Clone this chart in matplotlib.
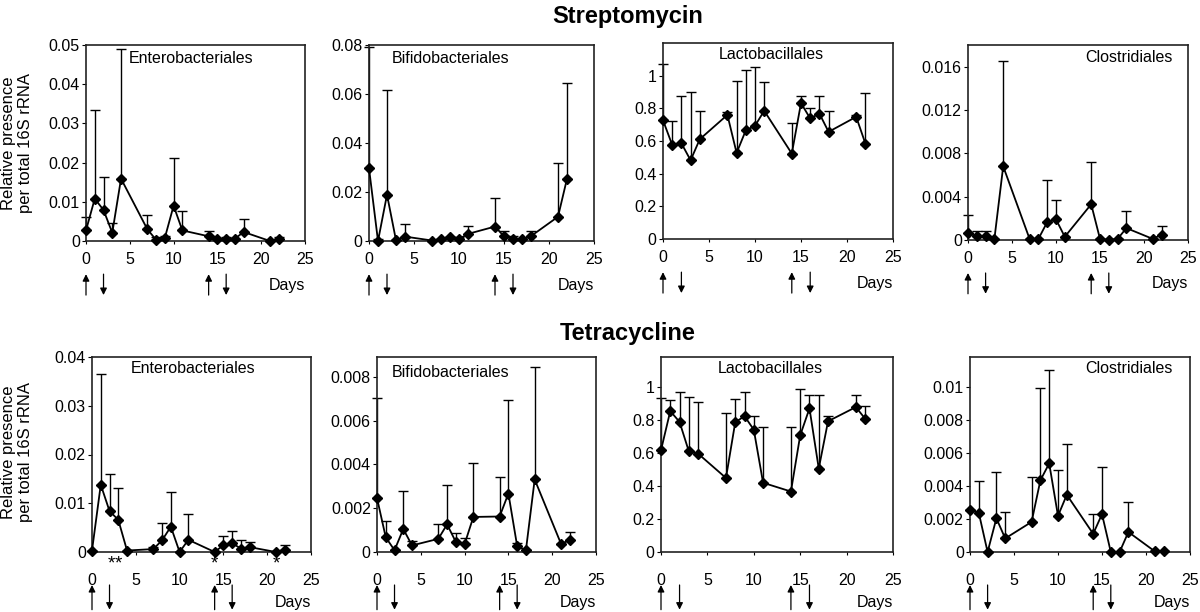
import numpy as np
import matplotlib
matplotlib.use("Agg")
import matplotlib.pyplot as plt

plt.rcParams['font.family'] = ['Liberation Sans', 'DejaVu Sans']

days = [0, 1, 2, 3, 4, 7, 8, 9, 10, 11, 14, 15, 16, 17, 18, 21, 22]

# Streptomycin: mean and top of error bar
strep_entero = [0.0027, 0.0108, 0.0079, 0.0021, 0.0159, 0.0030, 0.0003, 0.0008, 0.0090,
                0.0027, 0.0012, 0.0004, 0.0006, 0.0006, 0.0023, 0.0000, 0.0005]
strep_entero_err = [0.0062, 0.0335, 0.0162, 0.0047, 0.0490, 0.0066, 0.0010, 0.0013, 0.0211,
                    0.0077, 0.0026, 0.0004, 0.0011, 0.0006, 0.0057, 0.0000, 0.0010]
strep_bifido = [0.0297, 0.0000, 0.0189, 0.0003, 0.0018, 0.0002, 0.0008, 0.0018, 0.0008,
                0.0029, 0.0059, 0.0019, 0.0010, 0.0008, 0.0020, 0.0099, 0.0254]
strep_bifido_err = [0.0790, 0.0008, 0.0618, 0.0003, 0.0068, 0.0002, 0.0008, 0.0018, 0.0018,
                    0.0061, 0.0177, 0.0041, 0.0020, 0.0008, 0.0041, 0.0320, 0.0646]
strep_lacto = [0.727, 0.576, 0.586, 0.482, 0.611, 0.760, 0.527, 0.665, 0.693,
               0.785, 0.523, 0.832, 0.738, 0.768, 0.656, 0.748, 0.584]
strep_lacto_err = [1.070, 0.725, 0.877, 0.902, 0.785, 0.777, 0.969, 1.037, 1.055,
                   0.963, 0.709, 0.877, 0.803, 0.877, 0.785, 0.760, 0.891]
strep_clost = [0.00065, 0.00034, 0.00034, 0.0001, 0.0068, 0.0001, 0.0001, 0.00165, 0.0019,
               0.0003, 0.0033, 0.0001, 0.0000, 0.0001, 0.0011, 0.0001, 0.0005]
strep_clost_err = [0.0023, 0.00083, 0.00083, 0.0001, 0.0165, 0.0001, 0.0001, 0.0055, 0.0037,
                   0.0003, 0.0072, 0.0001, 0.0000, 0.0001, 0.0027, 0.0001, 0.0013]

# Tetracycline
tet_entero = [0.0003, 0.0138, 0.0084, 0.0066, 0.0003, 0.0006, 0.0024, 0.0052, 0.0000,
              0.0025, 0.0000, 0.0014, 0.0018, 0.0007, 0.0010, 0.0000, 0.0005]
tet_entero_err = [0.0003, 0.0365, 0.0159, 0.0131, 0.0003, 0.0011, 0.0059, 0.0124, 0.0000,
                  0.0078, 0.0000, 0.0032, 0.0044, 0.0024, 0.0020, 0.0000, 0.0014]
tet_bifido = [0.00246, 0.00067, 0.00008, 0.00105, 0.0003, 0.0006, 0.00126, 0.00046, 0.00036,
              0.0016, 0.00162, 0.00267, 0.00027, 0.00008, 0.00331, 0.00038, 0.00053]
tet_bifido_err = [0.00702, 0.0014, 0.00008, 0.0028, 0.00052, 0.0013, 0.00304, 0.00087, 0.00064,
                  0.00407, 0.00343, 0.00695, 0.0004, 0.00008, 0.00843, 0.00038, 0.00091]
tet_lacto = [0.616, 0.853, 0.787, 0.609, 0.595, 0.448, 0.785, 0.822, 0.740,
             0.419, 0.366, 0.706, 0.869, 0.505, 0.791, 0.877, 0.806]
tet_lacto_err = [0.930, 0.922, 0.967, 0.939, 0.910, 0.843, 0.928, 0.967, 0.820,
                 0.757, 0.757, 0.986, 0.949, 0.949, 0.820, 0.949, 0.883]
tet_clost = [0.00256, 0.00237, 0.0, 0.00204, 0.00082, 0.00182, 0.00434, 0.00536, 0.00219,
             0.00346, 0.0011, 0.00229, 0.0, 0.0, 0.00121, 0.00004, 0.00004]
tet_clost_err = [0.00256, 0.0043, 0.0, 0.00487, 0.00243, 0.00454, 0.00994, 0.01102, 0.00495,
                 0.00654, 0.00229, 0.00517, 0.0, 0.0, 0.00303, 0.00004, 0.00004]

orders = ['Enterobacteriales', 'Bifidobacteriales', 'Lactobacillales', 'Clostridiales']
strep_means = [strep_entero, strep_bifido, strep_lacto, strep_clost]
strep_tops = [strep_entero_err, strep_bifido_err, strep_lacto_err, strep_clost_err]
tet_means = [tet_entero, tet_bifido, tet_lacto, tet_clost]
tet_tops = [tet_entero_err, tet_bifido_err, tet_lacto_err, tet_clost_err]

strep_yticks = [np.arange(0, 0.051, 0.01), np.arange(0, 0.081, 0.02),
                np.arange(0, 1.01, 0.2), np.arange(0, 0.0161, 0.004)]
strep_ylim = [0.05, 0.08, 1.2, 0.018]
tet_yticks = [np.arange(0, 0.041, 0.01), np.arange(0, 0.0081, 0.002),
              np.arange(0, 1.01, 0.2), np.arange(0, 0.0101, 0.002)]
tet_ylim = [0.04, 0.0089, 1.18, 0.0118]

stars_days = [2.2, 3.05, 14, 21]
up_arrows = [0, 14]
down_arrows = [2, 16]

# panel boxes in pixels: left, top, right, bottom
W, H = 1200, 612
top_boxes = [(86, 45, 305, 241), (369, 45, 594, 241), (663, 43, 893, 239), (968, 45, 1188, 240)]
bot_boxes = [(92, 357, 311, 552), (377, 357, 596, 552), (661, 357, 893, 552), (970, 357, 1190, 552)]
# label placement (x, y, ha) in axes fraction
top_lab = [(0.195, 0.93, 'left'), (0.10, 0.93, 'left'), (0.47, 0.94, 'center'), (0.93, 0.935, 'right')]
bot_lab = [(0.175, 0.94, 'left'), (0.068, 0.92, 'left'), (0.47, 0.94, 'center'), (0.92, 0.94, 'right')]

fig = plt.figure(figsize=(W / 100, H / 100), dpi=100)
fs = 11.5


def panel(box, means, tops, yticks, ylim, name, lab, xpad, arrow_y, days_y):
    l, t, r, b = box
    ax = fig.add_axes([l / W, 1 - b / H, (r - l) / W, (b - t) / H])
    m = np.array(means)
    up = np.array(tops) - m
    ax.errorbar(days, m, yerr=[np.zeros_like(m), up], fmt='none', ecolor='black',
                elinewidth=1.0, capsize=3.5, capthick=1.0, clip_on=False)
    ax.plot(days, m, color='black', lw=1.3, marker='D', markersize=4.6, clip_on=False, zorder=3)
    ax.set_xlim(0, 25)
    ax.set_ylim(0, ylim)
    ax.set_xticks([0, 5, 10, 15, 20, 25])
    ax.set_yticks(yticks)
    ax.set_yticklabels(['%g' % round(v, 6) for v in yticks])
    ax.tick_params(axis='y', direction='out', length=3, pad=1.5, labelsize=fs, width=0.8)
    ax.tick_params(axis='x', direction='out', length=2, pad=xpad, labelsize=fs, width=0.8)
    for s in ax.spines.values():
        s.set_linewidth(1.2)
        s.set_color('#222222')
    ax.text(lab[0], lab[1], name, transform=ax.transAxes, ha=lab[2], va='center', fontsize=fs)
    tr = ax.get_xaxis_transform()
    for d in up_arrows:
        ax.annotate('', xy=(d, arrow_y[1]), xytext=(d, arrow_y[0]), xycoords=tr,
                    arrowprops=dict(arrowstyle='-|>', color='black', lw=0.9, mutation_scale=10),
                    annotation_clip=False)
    for d in down_arrows:
        ax.annotate('', xy=(d, arrow_y[0]), xytext=(d, arrow_y[1]), xycoords=tr,
                    arrowprops=dict(arrowstyle='-|>', color='black', lw=0.9, mutation_scale=10),
                    annotation_clip=False)
    ax.text(1.0, days_y, 'Days', transform=ax.transAxes, ha='right', va='center', fontsize=fs)
    return ax


for i in range(4):
    panel(top_boxes[i], strep_means[i], strep_tops[i], strep_yticks[i], strep_ylim[i],
          orders[i], top_lab[i], 6, (-0.29, -0.155), -0.225)
    ax = panel(bot_boxes[i], tet_means[i], tet_tops[i], tet_yticks[i], tet_ylim[i],
               orders[i], bot_lab[i], 13, (-0.31, -0.155), -0.26)
    if i == 0:
        for d in stars_days:
            ax.text(d, -0.082, '*', transform=ax.get_xaxis_transform(), ha='center',
                    va='baseline', fontsize=13.5)

ylab = 'Relative presence\nper total 16S rRNA'
fig.text(17 / W, 1 - 143 / H, ylab, rotation=90, ha='center', va='center', fontsize=12,
         multialignment='center')
fig.text(17 / W, 1 - 452 / H, ylab, rotation=90, ha='center', va='center', fontsize=12,
         multialignment='center')
fig.text(628 / W, 1 - 16 / H, 'Streptomycin', ha='center', va='center', fontsize=17,
         fontweight='bold')
fig.text(628 / W, 1 - 334 / H, 'Tetracycline', ha='center', va='center', fontsize=17,
         fontweight='bold')

fig.savefig('out.png', dpi=100)
